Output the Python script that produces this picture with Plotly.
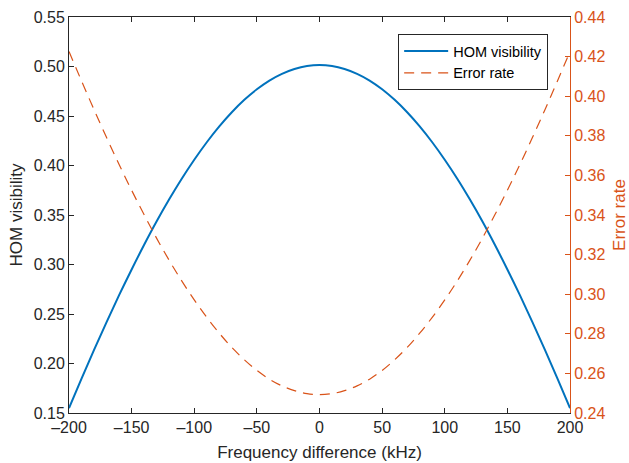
import plotly.graph_objects as go

# Frequency detuning between the two photons (kHz)
freq_khz = [-200, -190, -180, -170, -160, -150, -140, -130, -120, -110, -100,
            -90, -80, -70, -60, -50, -40, -30, -20, -10, 0,
            10, 20, 30, 40, 50, 60, 70, 80, 90, 100,
            110, 120, 130, 140, 150, 160, 170, 180, 190, 200]

# Hong-Ou-Mandel interference visibility
hom_visibility = [0.1549, 0.1847, 0.2137, 0.2418, 0.2690, 0.2950, 0.3199, 0.3436, 0.3658, 0.3866, 0.4058,
                  0.4235, 0.4395, 0.4538, 0.4663, 0.4770, 0.4858, 0.4926, 0.4975, 0.5005, 0.5015,
                  0.5005, 0.4975, 0.4926, 0.4858, 0.4770, 0.4663, 0.4538, 0.4395, 0.4235, 0.4058,
                  0.3866, 0.3658, 0.3436, 0.3199, 0.2950, 0.2690, 0.2418, 0.2137, 0.1847, 0.1549]

# Corresponding error rate
error_rate = [0.4226, 0.4077, 0.3932, 0.3791, 0.3655, 0.3525, 0.3401, 0.3282, 0.3171, 0.3067, 0.2971,
              0.2883, 0.2803, 0.2731, 0.2669, 0.2615, 0.2571, 0.2537, 0.2513, 0.2498, 0.2493,
              0.2498, 0.2513, 0.2537, 0.2571, 0.2615, 0.2669, 0.2731, 0.2803, 0.2883, 0.2971,
              0.3067, 0.3171, 0.3282, 0.3401, 0.3525, 0.3655, 0.3791, 0.3932, 0.4077, 0.4226]

x_ticks = [-200, -150, -100, -50, 0, 50, 100, 150, 200]
x_tick_text = ["\u2013200", "\u2013150", "\u2013100", "\u201350", "0", "50", "100", "150", "200"]
left_ticks = [0.15, 0.20, 0.25, 0.30, 0.35, 0.40, 0.45, 0.50, 0.55]
right_ticks = [0.24, 0.26, 0.28, 0.30, 0.32, 0.34, 0.36, 0.38, 0.40, 0.42, 0.44]

BLUE = "#0072BD"
ORANGE = "#D95319"
DARK = "#262626"
FONT = "Liberation Sans, Arial, sans-serif"

fig = go.Figure()
fig.add_trace(go.Scatter(
    x=freq_khz, y=hom_visibility, mode="lines", name="HOM visibility",
    line=dict(color=BLUE, width=2, shape="spline"), yaxis="y",
))
fig.add_trace(go.Scatter(
    x=freq_khz, y=error_rate, mode="lines", name="Error rate",
    line=dict(color=ORANGE, width=1.2, dash="10px,7px", shape="spline"), yaxis="y2",
))

fig.update_layout(
    width=629, height=463,
    margin=dict(l=69, r=59, t=17, b=50),
    paper_bgcolor="white", plot_bgcolor="white",
    font=dict(family=FONT, size=16, color=DARK),
    showlegend=True,
    legend=dict(
        x=0.657, y=0.957, xanchor="left", yanchor="top",
        bgcolor="white", bordercolor=DARK, borderwidth=1,
        font=dict(size=14.5, color="black"),
        tracegroupgap=0, itemwidth=44,
    ),
    xaxis=dict(
        range=[-200, 200], tickvals=x_ticks, ticktext=x_tick_text,
        showline=True, linecolor=DARK, linewidth=1, mirror="ticks",
        ticks="inside", ticklen=5, tickcolor=DARK,
        showgrid=False, zeroline=False, automargin=False,
        title=dict(text="Frequency difference (kHz)", font=dict(size=17), standoff=10),
        tickfont=dict(size=16),
    ),
    yaxis=dict(
        range=[0.15, 0.55], tickvals=left_ticks, tickformat=".2f",
        showline=True, linecolor=DARK, linewidth=1,
        ticks="inside", ticklen=5, tickcolor=DARK,
        showgrid=False, zeroline=False, automargin=False,
        title=dict(text="HOM visibility", font=dict(size=17), standoff=6),
        tickfont=dict(size=16),
    ),
    yaxis2=dict(
        range=[0.24, 0.44], tickvals=right_ticks, tickformat=".2f",
        overlaying="y", side="right",
        showline=True, linecolor=ORANGE, linewidth=1,
        ticks="inside", ticklen=5, tickcolor=ORANGE,
        showgrid=False, zeroline=False, automargin=False,
        title=dict(text="Error rate", font=dict(size=17, color=ORANGE), standoff=10),
        tickfont=dict(size=16, color=ORANGE),
    ),
)

fig.write_html("out.html")
